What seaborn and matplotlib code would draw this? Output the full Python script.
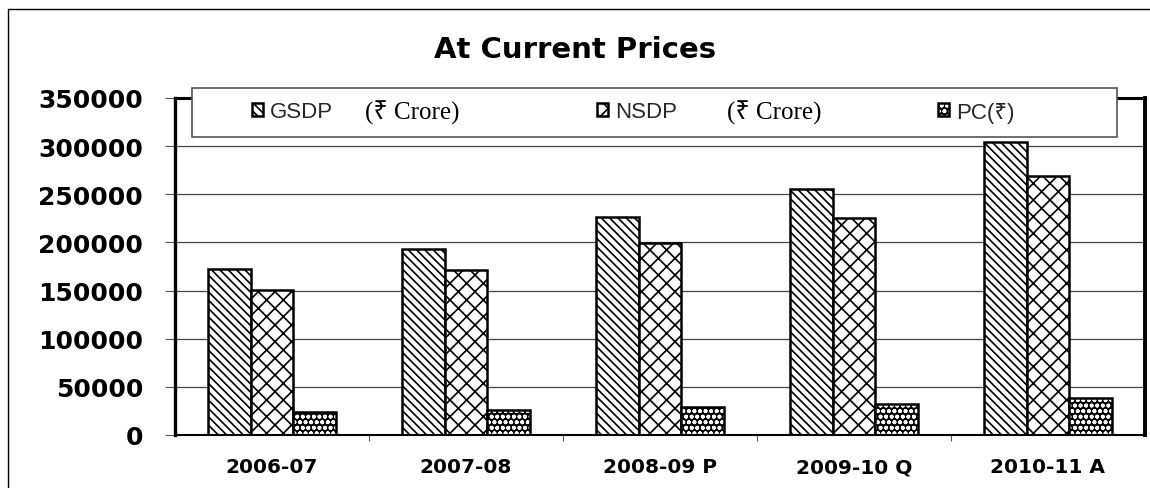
import numpy as np
import pandas as pd
import matplotlib
matplotlib.use("Agg")
import matplotlib.pyplot as plt
from matplotlib.patches import Rectangle
from matplotlib.lines import Line2D
from matplotlib.ticker import FixedLocator
from matplotlib.font_manager import FontProperties
import seaborn as sns

# data
years = ['2006-07', '2007-08', '2008-09 P', '2009-10 Q', '2010-11 A']
gsdp = [172000, 193000, 226000, 255500, 304000]
nsdp = [150500, 171500, 199500, 225500, 268500]
pc = [23500, 26000, 29000, 32500, 38000]
series = ['GSDP', 'NSDP', 'PC(₹)']


def main():
    sns.set_theme(style="white")
    plt.rcParams['font.family'] = ['DejaVu Sans', 'Noto Sans']
    plt.rcParams['hatch.linewidth'] = 1.2

    df = pd.DataFrame({
        'year': years * 3,
        'series': [series[0]] * 5 + [series[1]] * 5 + [series[2]] * 5,
        'value': gsdp + nsdp + pc,
    })

    W, H = 1150, 489
    fig = plt.figure(figsize=(W / 100, H / 100), dpi=100)
    ax = fig.add_axes([175 / W, 1 - 436 / H, (1145 - 175) / W, (436 - 99) / H])

    sns.barplot(data=df, x='year', y='value', hue='series', ax=ax,
                palette=['white', 'white', 'black'], width=0.66,
                edgecolor='black', linewidth=1.8, saturation=1, legend=False)

    hatches = ['\\\\\\\\', 'xx', 'ooo']
    for cont, h in zip(ax.containers, hatches):
        for p in cont:
            p.set_hatch(h)
    # dark bars with white dots
    for p in ax.containers[2]:
        p._hatch_color = (1, 1, 1, 1)

    ax.set_ylim(0, 350000)
    ax.set_xlim(-0.5, 4.5)
    ax.set_yticks(np.arange(0, 350001, 50000))
    ax.yaxis.grid(True, color='#444444', linewidth=0.9)
    ax.set_axisbelow(True)
    ax.set_xlabel('')
    ax.set_ylabel('')

    ax.tick_params(axis='y', which='major', left=True, length=7, width=0.8,
                   color='#555555', pad=16, labelsize=18)
    ax.tick_params(axis='x', which='major', bottom=False, pad=10, labelsize=14.5)
    ax.xaxis.set_minor_locator(FixedLocator(np.arange(0.5, 4.5, 1)))
    ax.tick_params(axis='x', which='minor', bottom=True, length=4, width=0.8,
                   color='#555555')
    for lab in ax.get_xticklabels() + ax.get_yticklabels():
        lab.set_fontweight('bold')
        lab.set_color('black')

    ax.spines['left'].set_linewidth(2.4)
    ax.spines['bottom'].set_linewidth(1.5)
    ax.spines['right'].set_linewidth(2.8)
    ax.spines['top'].set_linewidth(2.2)
    for s in ax.spines.values():
        s.set_color('black')

    # title
    fig.text(575 / W, 1 - 50 / H, 'At Current Prices', ha='center', va='center',
             fontsize=21, fontweight='bold', color='black')

    # legend box
    fig.add_artist(Rectangle((192 / W, 1 - 138 / H), (1117 - 192) / W, 49 / H,
                             transform=fig.transFigure, facecolor='white',
                             edgecolor='#555555', linewidth=1.2, zorder=3))

    leg_font = FontProperties(family=['Liberation Sans', 'Noto Sans'], size=16)
    leg_x = [252, 597, 938]
    for cont, lab, x in zip(ax.containers, series, leg_x):
        fig.legend(handles=[cont[0]], labels=[lab], loc='center left',
                   bbox_to_anchor=(x / W, 1 - 113 / H), frameon=False,
                   handlelength=0.5, handleheight=0.5, handletextpad=0.3,
                   borderpad=0, borderaxespad=0, prop=leg_font)
    for x in [365, 727]:
        fig.text(x / W, 1 - 113 / H, '(₹ Crore)', ha='left', va='center',
                 fontsize=18, family=['Liberation Serif', 'Noto Sans', 'DejaVu Sans'],
                 color='black', zorder=6)

    # outer frame of the original picture
    fig.add_artist(Line2D([8 / W, 8 / W], [0, 1 - 10 / H], transform=fig.transFigure,
                          color='black', linewidth=1))
    fig.add_artist(Line2D([8 / W, 1], [1 - 10 / H, 1 - 10 / H], transform=fig.transFigure,
                          color='black', linewidth=1))

    fig.savefig('out.png', dpi=100)


if __name__ == "__main__":
    main()
